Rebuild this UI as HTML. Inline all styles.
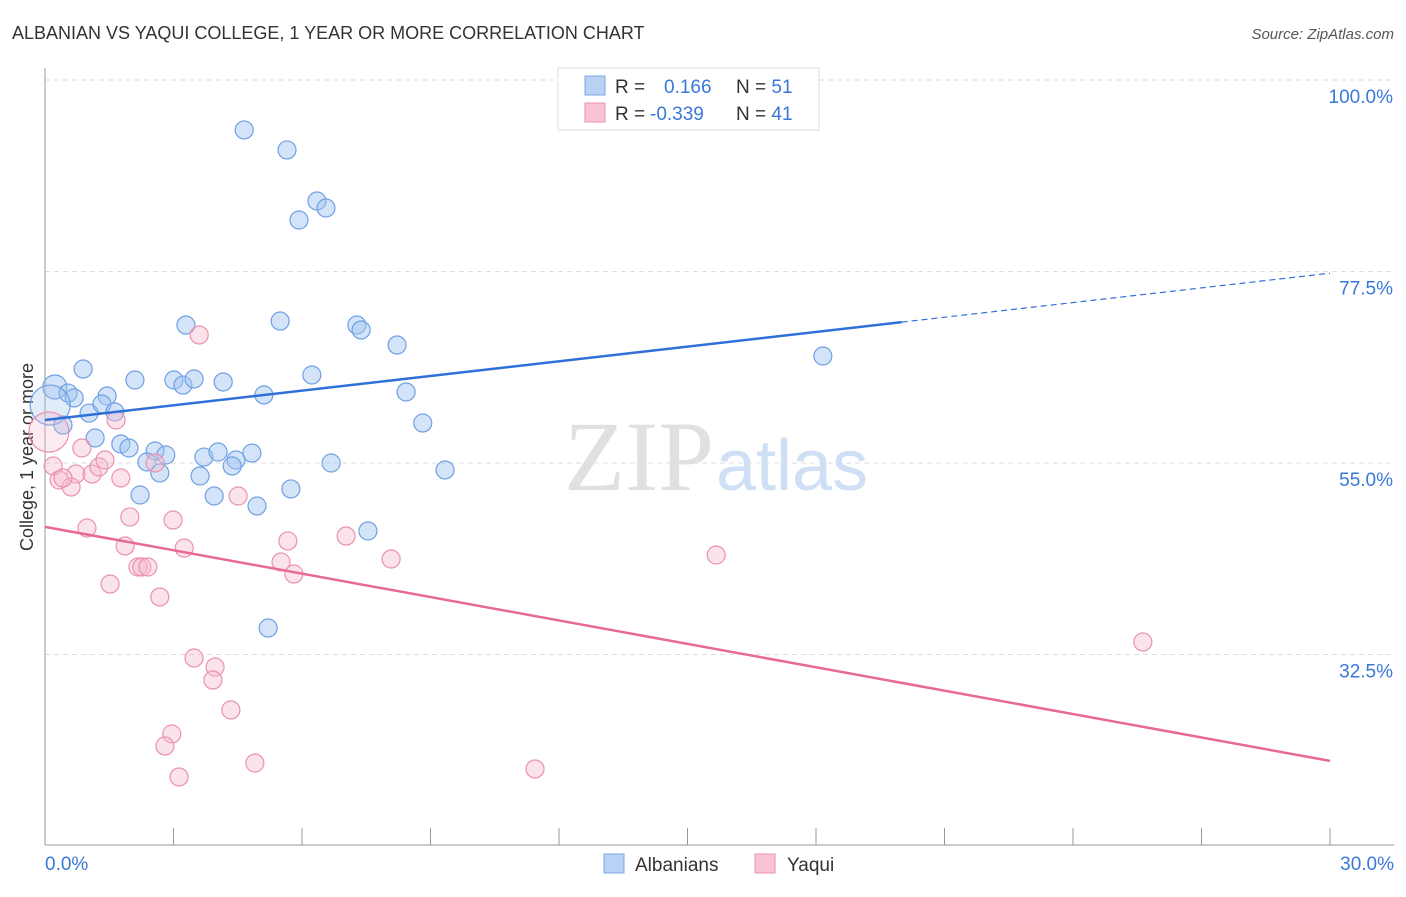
<!DOCTYPE html>
<html><head><meta charset="utf-8"><style>
body{margin:0;background:#fff;font-family:"Liberation Sans",sans-serif;}
</style></head><body>
<svg width="1406" height="892" xmlns="http://www.w3.org/2000/svg">
<text x="12" y="39" font-size="18" fill="#333">ALBANIAN VS YAQUI COLLEGE, 1 YEAR OR MORE CORRELATION CHART</text>
<text x="1394" y="39" font-size="15" fill="#555" text-anchor="end" font-style="italic">Source: ZipAtlas.com</text>
<g id="grid"></g>
<text x="714" y="490" font-size="100" fill="#e0e0e0" text-anchor="end" font-family="Liberation Serif,serif">ZIP</text>
<text x="716" y="490" font-size="72" fill="#cfdff5">atlas</text>
<line x1="45" y1="68" x2="45" y2="845" stroke="#999"/>
<line x1="45" y1="845" x2="1394" y2="845" stroke="#999"/>
<text transform="translate(33,457) rotate(-90)" font-size="18" fill="#333" text-anchor="middle">College, 1 year or more</text>
<text x="45" y="870" font-size="19" fill="#3a78d8">0.0%</text>
<text x="1394" y="870" font-size="19" fill="#3a78d8" text-anchor="end">30.0%</text>
<g id="marks"></g>
<g>
<rect x="558" y="68" width="261" height="62" fill="#fff" stroke="#ddd"/>
<rect x="585" y="76" width="20" height="19" fill="#b9d2f3" stroke="#7aa7e6"/>
<rect x="585" y="103" width="20" height="19" fill="#f8c4d3" stroke="#eb92ad"/>
<text x="615" y="93" font-size="19" fill="#333">R = <tspan fill="#3a78d8" x="664">0.166</tspan><tspan x="736" fill="#333">N = </tspan><tspan fill="#3a78d8">51</tspan></text>
<text x="615" y="120" font-size="19" fill="#333">R = <tspan fill="#3a78d8" x="650">-0.339</tspan><tspan x="736" fill="#333">N = </tspan><tspan fill="#3a78d8">41</tspan></text>
</g>
<g>
<rect x="604" y="854" width="20" height="19" fill="#b9d2f3" stroke="#7aa7e6"/>
<text x="635" y="871" font-size="19" fill="#333">Albanians</text>
<rect x="755" y="854" width="20" height="19" fill="#f8c4d3" stroke="#eb92ad"/>
<text x="787" y="871" font-size="19" fill="#333">Yaqui</text>
</g>
</svg>
<script>
const yTicks=[100,77.5,55,32.5];
const yTickLabels=["100.0%","77.5%","55.0%","32.5%"];
const blueX=[244,287,317,326,299,186,280,357,361,397,823,83,55,68,74,107,135,174,183,194,223,264,312,406,89,102,115,50,63,95,121,129,155,166,147,160,200,204,218,236,232,252,331,214,140,257,291,445,423,368,268].map(p=>+((p-45)/1285*30).toFixed(2));
const blueY=[130,150,201,208,220,325,321,325,330,345,356,369,387,393,398,396,380,380,385,379,382,395,375,392,413,404,412,405,425,438,444,448,451,455,462,473,476,457,452,460,466,453,463,496,495,506,489,470,423,531,628].map(p=>+(100-(p-80)/191.5*22.5).toFixed(2));
const blueR=[9,9,9,9,9,9,9,9,9,9,9,9,12,9,9,9,9,9,9,9,9,9,9,9,9,9,9,20,9,9,9,9,9,9,9,9,9,9,9,9,9,9,9,9,9,9,9,9,9,9,9];
const pinkX=[199,116,49,82,53,59,76,92,99,105,71,121,87,130,173,125,184,238,155,110,138,142,148,160,194,215,213,231,172,165,179,255,288,281,294,346,391,716,1143,535,63].map(p=>+((p-45)/1285*30).toFixed(2));
const pinkY=[335,420,432,448,466,480,474,474,467,460,487,478,528,517,520,546,548,496,463,584,567,567,567,597,658,667,680,710,734,746,777,763,541,562,574,536,559,555,642,769,478].map(p=>+(100-(p-80)/191.5*22.5).toFixed(2));
const pinkR=[9,9,20,9,9,9,9,9,9,9,9,9,9,9,9,9,9,9,9,9,9,9,9,9,9,9,9,9,9,9,9,9,9,9,9,9,9,9,9,9,9];
const blueTrend=[60.05,77.3], pinkTrend=[47.5,20.0], blueSolidEnd=20;
const X=v=>45+v/30*1285, Y=v=>80+(100-v)/22.5*191.5;
const NS="http://www.w3.org/2000/svg";
const grid=document.getElementById('grid'), marks=document.getElementById('marks');
function mk(tag,at,parent){const e=document.createElementNS(NS,tag);for(const k in at)e.setAttribute(k,at[k]);parent.appendChild(e);return e;}
yTicks.forEach((t,i)=>{
 const l=mk('line',{x1:45,x2:1394,y1:Y(t),y2:Y(t),stroke:'#ddd','stroke-dasharray':'5,4'},grid);
 
 
 const tx=mk('text',{x:1393,y:Y(t)+23,'font-size':19,fill:'#3a78d8','text-anchor':'end'},grid);
 tx.textContent=yTickLabels[i];
 
 
});
for(let i=1;i<=10;i++){const x=45+i*128.5;
 const l=mk('line',{x1:x,x2:x,y1:828,y2:845,stroke:'#999'},grid);
 
 }
blueX.forEach((v,i)=>{const c=mk('circle',{cx:X(v),cy:Y(blueY[i]),r:blueR[i],fill:blueR[i]>12?'rgba(160,196,240,0.3)':'rgba(160,196,240,0.45)',stroke:'#6ea0e4','stroke-width':1.2},marks);
 
 });
pinkX.forEach((v,i)=>{const c=mk('circle',{cx:X(v),cy:Y(pinkY[i]),r:pinkR[i],fill:pinkR[i]>12?'rgba(246,184,204,0.28)':'rgba(246,184,204,0.4)',stroke:'#ec91ae','stroke-width':1.2},marks);
 
 });
const by=x=>blueTrend[0]+(blueTrend[1]-blueTrend[0])*x/30;
let l=mk('line',{x1:X(0),y1:Y(by(0)),x2:X(blueSolidEnd),y2:Y(by(blueSolidEnd)),stroke:'#2f6fd8','stroke-width':2.5},marks);


l=mk('line',{x1:X(blueSolidEnd),y1:Y(by(blueSolidEnd)),x2:X(30),y2:Y(by(30)),stroke:'#2f6fd8','stroke-width':1.2,'stroke-dasharray':'6,4'},marks);


l=mk('line',{x1:X(0),y1:Y(pinkTrend[0]),x2:X(30),y2:Y(pinkTrend[1]),stroke:'#e8689a','stroke-width':2.5},marks);


</script>
</body></html>
